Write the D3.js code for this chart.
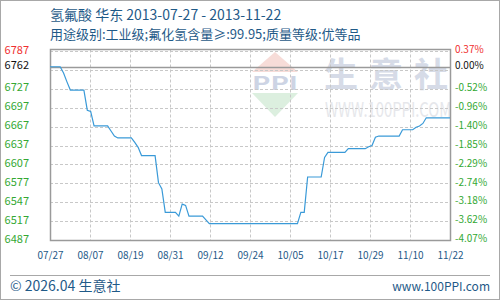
<!DOCTYPE html>
<html>
<head>
<meta charset="utf-8">
<script src="https://cdn.jsdelivr.net/npm/d3@7"></script>
<style>
body { margin: 0; background: #fff; }
svg text { font-family: "Noto Sans CJK SC", "Noto Sans", sans-serif; }
</style>
</head>
<body>
<div id="chart"></div>
<script>
// chart data (day index from 2013-07-27, price)
var days = d3.range(0, 119);
var prices = [
    6762, 6762, 6762, 6762, 6752, 6738, 6725, 6725, 6725, 6725,
    6725, 6693, 6691, 6668, 6668, 6668, 6668, 6668, 6660, 6652,
    6649, 6649, 6649, 6649, 6649, 6642, 6634, 6621, 6621, 6621,
    6621, 6621, 6578, 6568, 6531, 6531, 6531, 6531, 6525, 6544,
    6542, 6525, 6525, 6525, 6525, 6525, 6519, 6513, 6513, 6513,
    6513, 6513, 6513, 6513, 6513, 6513, 6513, 6513, 6513, 6513,
    6513, 6513, 6513, 6513, 6513, 6513, 6513, 6513, 6513, 6513,
    6513, 6513, 6513, 6513, 6531, 6531, 6587, 6587, 6587, 6587,
    6587, 6618, 6626, 6626, 6626, 6626, 6626, 6626, 6632, 6632,
    6632, 6632, 6632, 6632, 6635, 6637, 6650, 6652, 6652, 6652,
    6652, 6652, 6652, 6652, 6662, 6662, 6662, 6662, 6666, 6668,
    6672, 6681, 6681, 6681, 6681, 6681, 6681, 6681, 6681
];
var xTickLabels = ["07/27", "08/07", "08/19", "08/31", "09/12", "09/24", "10/05", "10/17", "10/29", "11/10", "11/22"];
var leftTicks = [6487, 6517, 6547, 6577, 6607, 6637, 6667, 6697, 6727, 6762, 6787];
var rightTickLabels = ["-4.07%", "-3.62%", "-3.18%", "-2.74%", "-2.29%", "-1.85%", "-1.40%", "-0.96%", "-0.52%", "0.00%", "0.37%"];
var gridValues = [6517, 6547, 6577, 6607, 6637, 6667, 6697, 6727, 6757, 6787];
var baseValue = 6762;
var title1 = "氢氟酸 华东 2013-07-27 - 2013-11-22";
var title2 = "用途级别:工业级;氟化氢含量≥:99.95;质量等级:优等品";

var svgWidth = 500;
var svgHeight = 300;
var plot = { left: 50, right: 450, top: 49.5, bottom: 240 };

var svg = d3.select("#chart").append("svg")
    .attr("width", svgWidth)
    .attr("height", svgHeight);

// outer frame
svg.append("rect")
    .attr("x", 0.5).attr("y", 0.5)
    .attr("width", svgWidth - 1).attr("height", svgHeight - 1)
    .attr("fill", "#fff").attr("stroke", "#a8a8a8");

var xScale = d3.scaleLinear().domain([0, 118]).range([plot.left, plot.right]);
var yScale = d3.scaleLinear().domain([6487, 6787]).range([240, 51]);

// titles
svg.append("text").attr("x", 50).attr("y", 20)
    .attr("font-size", "14px").attr("fill", "#1f5a88").text(title1);
svg.append("text").attr("x", 50).attr("y", 39)
    .attr("font-size", "13px").attr("fill", "#1f5a88").text(title2);

// watermark
var wm = svg.append("g");
wm.append("polygon").attr("points", "275,52 252,72 298,72").attr("fill", "#f7dcd8");
wm.append("polygon").attr("points", "252,93 298,93 275,117").attr("fill", "#dcefdf");
wm.append("text").attr("x", 252).attr("y", 90)
    .attr("textLength", 46).attr("lengthAdjust", "spacingAndGlyphs")
    .attr("font-family", "DejaVu Serif").attr("font-weight", "bold")
    .attr("font-size", "19px").attr("fill", "#cdd4e4").text("PPI");
wm.append("text").attr("x", 324).attr("y", 87)
    .attr("textLength", 124).attr("lengthAdjust", "spacing")
    .attr("font-weight", "bold").attr("font-size", "34px")
    .attr("fill", "#d6dbe7").text("生意社");
wm.append("text")
    .attr("transform", "translate(325,117) scale(1,1.4)")
    .attr("font-family", "Liberation Sans").attr("font-size", "14.8px")
    .attr("fill", "#e6e7eb").text("WWW.100PPI.COM");

// grid
var grid = svg.append("g").attr("stroke", "#c8c8c8").attr("stroke-dasharray", "3,2");
grid.selectAll("line.h").data(gridValues).enter().append("line")
    .attr("x1", plot.left).attr("x2", plot.right)
    .attr("y1", d => Math.round(yScale(d)) + 0.5)
    .attr("y2", d => Math.round(yScale(d)) + 0.5);
grid.selectAll("line.v").data(d3.range(1, 10)).enter().append("line")
    .attr("x1", d => Math.round(xScale(d * 11.8)) + 0.5)
    .attr("x2", d => Math.round(xScale(d * 11.8)) + 0.5)
    .attr("y1", plot.top).attr("y2", plot.bottom);

// base value line
svg.append("line")
    .attr("x1", plot.left).attr("x2", plot.right)
    .attr("y1", Math.round(yScale(baseValue)) + 0.5)
    .attr("y2", Math.round(yScale(baseValue)) + 0.5)
    .attr("stroke", "#9a9a9a").attr("stroke-width", 1.5);

// plot border
svg.append("rect")
    .attr("x", plot.left + 0.5).attr("y", plot.top)
    .attr("width", plot.right - plot.left).attr("height", plot.bottom - plot.top + 0.5)
    .attr("fill", "none").attr("stroke", "#9a9a9a").attr("stroke-width", 1.5);

// price line
var line = d3.line()
    .x((d, i) => xScale(days[i]))
    .y(d => yScale(d));

svg.append("path")
    .datum(prices)
    .attr("d", line)
    .attr("fill", "none")
    .attr("stroke", "#3a9ad8")
    .attr("stroke-width", 1.2);

// left axis
var leftAxis = svg.append("g")
    .attr("transform", "translate(29,-1.5)")
    .call(d3.axisLeft(yScale).tickValues(leftTicks).tickSize(0).tickPadding(0).tickFormat(d3.format("d")));
leftAxis.select(".domain").remove();
leftAxis.selectAll("text")
    .attr("font-family", "Liberation Sans")
    .attr("font-size", "11px")
    .attr("fill", d => d > baseValue ? "#f03030" : (d == baseValue ? "#111" : "#33a833"));

// right axis
var rightAxis = svg.append("g")
    .attr("transform", "translate(455,-1.5)")
    .call(d3.axisRight(yScale).tickValues(leftTicks).tickSize(0).tickPadding(0)
        .tickFormat((d, i) => rightTickLabels[i]));
rightAxis.select(".domain").remove();
rightAxis.selectAll("text")
    .attr("font-family", "DejaVu Sans Mono")
    .attr("font-size", "10px")
    .attr("fill", d => d > baseValue ? "#f03030" : (d == baseValue ? "#111" : "#33a833"));

// x axis
var xAxis = svg.append("g")
    .attr("transform", "translate(0,240)")
    .call(d3.axisBottom(xScale).tickValues(d3.range(11).map(i => i * 11.8)).tickSize(0).tickPadding(12)
        .tickFormat((d, i) => xTickLabels[i]));
xAxis.select(".domain").remove();
xAxis.selectAll("text")
    .attr("font-family", "DejaVu Sans Mono")
    .attr("font-size", "10px")
    .attr("fill", "#1f5a88");

// footer
svg.append("line")
    .attr("x1", 10).attr("x2", 490).attr("y1", 275.5).attr("y2", 275.5)
    .attr("stroke", "#a8a8a8");
svg.append("text").attr("x", 10).attr("y", 291)
    .attr("font-size", "14px").attr("fill", "#1f5a88").text("© 2026.04 生意社");
svg.append("text").attr("x", 490).attr("y", 291).attr("text-anchor", "end")
    .attr("font-family", "DejaVu Sans").attr("font-size", "12px")
    .attr("fill", "#1f5a88").text("www.100PPI.com");
</script>
</body>
</html>
